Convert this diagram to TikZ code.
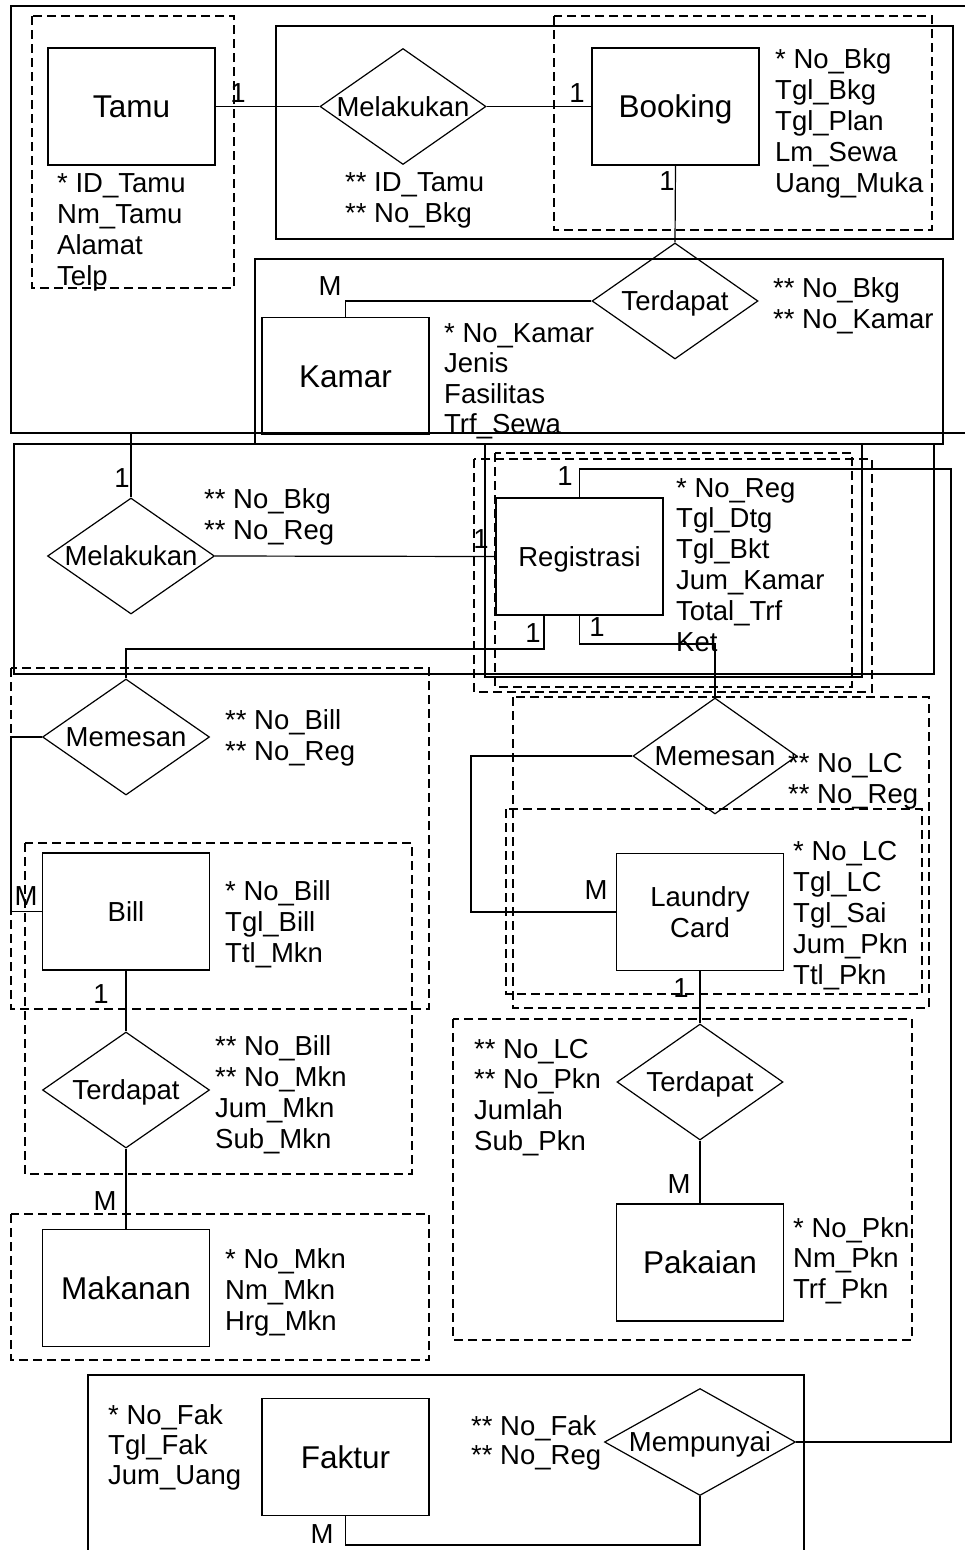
\documentclass[tikz,border=0pt]{standalone}
\usepackage{fontspec}
\setmainfont{Liberation Sans}
\usetikzlibrary{shapes.geometric}
\tikzset{
  ln/.style={line width=1.2pt},
  dsh/.style={line width=1.2pt, dash pattern=on 9pt off 5pt},
  entbase/.style={draw, line width=1.2pt, minimum width=167pt, minimum height=117pt, inner sep=0pt},
  ent/.style={entbase, font=\fontsize{31.5}{36}\selectfont, text height=22.5pt, text depth=0pt},
  ents/.style={entbase, font=\fontsize{27.5}{31}\selectfont, text height=19.7pt, text depth=0pt},
  rel/.style={draw, diamond, line width=1.2pt, minimum width=166pt, minimum height=116pt, inner sep=0pt, font=\fontsize{27.5}{31}\selectfont, text height=19.7pt, text depth=0pt},
  attr/.style={anchor=base west, inner sep=0pt, font=\fontsize{27.5}{31}\selectfont},
  card/.style={anchor=base, inner sep=0pt, font=\fontsize{27.5}{31}\selectfont},
}
\begin{document}
\begin{tikzpicture}[x=1pt, y=-1pt]
\useasboundingbox (0,0) rectangle (965,1550);

% solid group frames
\draw[ln] (970,6) -- (11,6) -- (11,433) -- (970,433);
\draw[ln] (276,26) rectangle (953,239);
\draw[ln] (255,259) rectangle (943,444);
\draw[ln] (14,444) rectangle (934,674);
\draw[ln] (485,444) rectangle (862,677);
\draw[ln] (88,1560) -- (88,1375) -- (804,1375) -- (804,1560);

% dashed group frames
\draw[dsh] (32,16) rectangle (234,288);
\draw[dsh] (554,16) rectangle (932,230);
\draw[dsh] (474,459) rectangle (872,692);
\draw[dsh] (495,453) rectangle (852,687);
\draw[dsh] (11,668) rectangle (429,1009);
\draw[dsh] (25,843) rectangle (412,1174);
\draw[dsh] (11,1214) rectangle (429,1360);
\draw[dsh] (513,697) rectangle (929,1008);
\draw[dsh] (506,809) rectangle (922,994);
\draw[dsh] (453,1019) rectangle (912,1340);

% entities
\node[ent] (tamu) at (131.5,106.5) {Tamu};
\node[ent] (booking) at (675.5,106.5) {Booking};
\node[ent] (kamar) at (345.5,376) {Kamar};
\node[ents] (reg) at (579.5,556.5) {Registrasi};
\node[ents] (bill) at (126,911.5) {Bill};
\node[ent] (makanan) at (126,1288) {Makanan};
\node[entbase, font=\fontsize{27.5}{31}\selectfont, align=center] (lc) at (700,912) {Laundry\\Card};
\node[ent] (pakaian) at (700,1262.5) {Pakaian};
\node[ent] (faktur) at (345.5,1457) {Faktur};

% relationships
\node[rel] (mel1) at (403,106.5) {\makebox[0pt]{Melakukan}};
\node[rel] (ter1) at (675,301) {\makebox[0pt]{Terdapat}};
\node[rel, minimum width=167pt] (mel2) at (131,556) {\makebox[0pt]{Melakukan}};
\node[rel, minimum width=167pt] (mem1) at (126,737) {\makebox[0pt]{Memesan}};
\node[rel, minimum width=167pt] (ter2) at (126,1090) {\makebox[0pt]{Terdapat}};
\node[rel, minimum width=164pt] (mem2) at (715,756) {\makebox[0pt]{Memesan}};
\node[rel] (ter3) at (700,1082) {\makebox[0pt]{Terdapat}};
\node[rel, minimum width=191pt, minimum height=107pt] (memp) at (700,1442) {\makebox[0pt]{Mempunyai}};

% helper coordinates
\coordinate (mel2top) at (131,433);
\coordinate (regtop) at (579.5,469);
\coordinate (rrail) at (951,469);
\coordinate (rbl) at (544,649);
\coordinate (rbr) at (579.5,644);
\coordinate (lrail) at (11,737);
\coordinate (mrail) at (471,756);
\coordinate (fbot) at (700,1545);

% connectors
\draw[ln] (tamu.east) -- (mel1.west);
\draw[ln] (mel1.east) -- (booking.west);
\draw[ln] (booking.south) -- (ter1.north);
\draw[ln] (ter1.west) -| (kamar.north);
\draw[ln] (mel2.north) -- (mel2top);
\draw[ln] (mel2.east) -- (reg.west);
\draw[ln] (reg.north) -- (regtop) -- (rrail) |- (memp.east);
\draw[ln] (reg.south -| rbl) -- (rbl) -| (mem1.north);
\draw[ln] (reg.south) -- (rbr) -| (mem2.north);
\draw[ln] (mem1.west) -- (lrail) |- (bill.west);
\draw[ln] (bill.south) -- (ter2.north);
\draw[ln] (ter2.south) -- (makanan.north);
\draw[ln] (mem2.west) -- (mrail) |- (lc.west);
\draw[ln] (lc.south) -- (ter3.north);
\draw[ln] (ter3.south) -- (pakaian.north);
\draw[ln] (memp.south) -- (fbot) -| (faktur.south);

% cardinalities
\node[card] (c1) at (238,102) {1};
\node[card] (c2) at (577,102) {1};
\node[card] (c3) at (667,190) {1};
\node[card] (c4) at (330,295) {M};
\node[card] (c5) at (122,487) {1};
\node[card] (c6) at (481,548) {1};
\node[card] (c7) at (565,485) {1};
\node[card] (c8) at (533,642) {1};
\node[card] (c9) at (597,636) {1};
\node[card] (c10) at (26,905) {M};
\node[card] (c11) at (101,1003) {1};
\node[card] (c12) at (105,1210) {M};
\node[card] (c13) at (596,899) {M};
\node[card] (c14) at (681,997) {1};
\node[card] (c15) at (679,1193) {M};
\node[card] (c16) at (322,1543) {M};

% attributes
\foreach \t [count=\i] in {{* ID\_Tamu},{Nm\_Tamu},{Alamat},{Telp}}
  \node[attr] (aTamu\i) at (57,{192+31*(\i-1)}) {\t};
\foreach \t [count=\i] in {{** ID\_Tamu},{** No\_Bkg}}
  \node[attr] (aMel1\i) at (345,{191+31*(\i-1)}) {\t};
\foreach \t [count=\i] in {{* No\_Bkg},{Tgl\_Bkg},{Tgl\_Plan},{Lm\_Sewa},{Uang\_Muka}}
  \node[attr] (aBkg\i) at (775,{68+31*(\i-1)}) {\t};
\foreach \t [count=\i] in {{** No\_Bkg},{** No\_Kamar}}
  \node[attr] (aTer1\i) at (773,{297+31*(\i-1)}) {\t};
\foreach \t [count=\i] in {{* No\_Kamar},{Jenis},{Fasilitas},{Trf\_Sewa}}
  \node[attr] (aKam\i) at (444,{342+30.5*(\i-1)}) {\t};
\foreach \t [count=\i] in {{** No\_Bkg},{** No\_Reg}}
  \node[attr] (aMel2\i) at (204,{508+31*(\i-1)}) {\t};
\foreach \t [count=\i] in {{* No\_Reg},{Tgl\_Dtg},{Tgl\_Bkt},{Jum\_Kamar},{Total\_Trf},{Ket}}
  \node[attr] (aReg\i) at (676,{497+30.8*(\i-1)}) {\t};
\foreach \t [count=\i] in {{** No\_Bill},{** No\_Reg}}
  \node[attr] (aMem1\i) at (225,{729+31*(\i-1)}) {\t};
\foreach \t [count=\i] in {{* No\_Bill},{Tgl\_Bill},{Ttl\_Mkn}}
  \node[attr] (aBill\i) at (225,{900+31*(\i-1)}) {\t};
\foreach \t [count=\i] in {{** No\_Bill},{** No\_Mkn},{Jum\_Mkn},{Sub\_Mkn}}
  \node[attr] (aTer2\i) at (215,{1055+31*(\i-1)}) {\t};
\foreach \t [count=\i] in {{* No\_Mkn},{Nm\_Mkn},{Hrg\_Mkn}}
  \node[attr] (aMak\i) at (225,{1268+31*(\i-1)}) {\t};
\foreach \t [count=\i] in {{** No\_LC},{** No\_Reg}}
  \node[attr] (aMem2\i) at (788,{772+31*(\i-1)}) {\t};
\foreach \t [count=\i] in {{* No\_LC},{Tgl\_LC},{Tgl\_Sai},{Jum\_Pkn},{Ttl\_Pkn}}
  \node[attr] (aLC\i) at (793,{860+31*(\i-1)}) {\t};
\foreach \t [count=\i] in {{** No\_LC},{** No\_Pkn},{Jumlah},{Sub\_Pkn}}
  \node[attr] (aTer3\i) at (474,{1058+30.7*(\i-1)}) {\t};
\foreach \t [count=\i] in {{* No\_Pkn},{Nm\_Pkn},{Trf\_Pkn}}
  \node[attr] (aPak\i) at (793,{1237+30.5*(\i-1)}) {\t};
\foreach \t [count=\i] in {{* No\_Fak},{Tgl\_Fak},{Jum\_Uang}}
  \node[attr] (aFak\i) at (108,{1424+30*(\i-1)}) {\t};
\foreach \t [count=\i] in {{** No\_Fak},{** No\_Reg}}
  \node[attr] (aMemp\i) at (471,{1435+29*(\i-1)}) {\t};
\end{tikzpicture}
\end{document}
